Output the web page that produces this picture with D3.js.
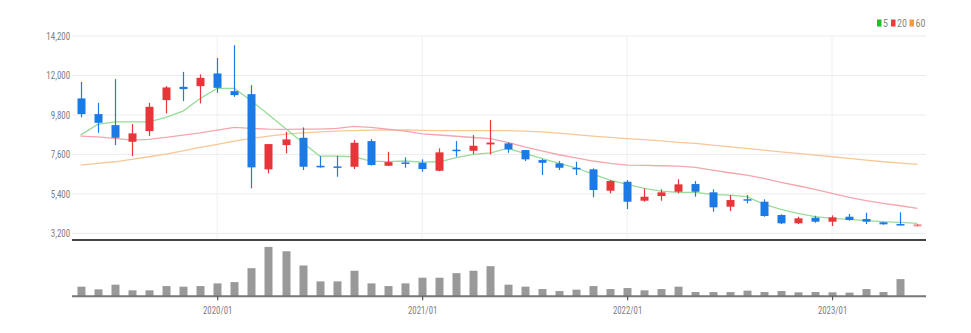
<!DOCTYPE html>
<html>
<head>
<meta charset="utf-8">
<script src="https://cdn.jsdelivr.net/npm/d3@7"></script>
<style>
  html, body { margin: 0; padding: 0; background: #fff; }
  svg { display: block; }
  text { font-family: "Liberation Sans Narrow", "Roboto Condensed", "DejaVu Sans Condensed", "Liberation Sans", sans-serif; }
</style>
</head>
<body>
<svg id="chart" width="971" height="333"></svg>
<script>
const months = ["2019/05","2019/06","2019/07","2019/08","2019/09","2019/10","2019/11","2019/12",
  "2020/01","2020/02","2020/03","2020/04","2020/05","2020/06","2020/07","2020/08","2020/09","2020/10","2020/11","2020/12",
  "2021/01","2021/02","2021/03","2021/04","2021/05","2021/06","2021/07","2021/08","2021/09","2021/10","2021/11","2021/12",
  "2022/01","2022/02","2022/03","2022/04","2022/05","2022/06","2022/07","2022/08","2022/09","2022/10","2022/11","2022/12",
  "2023/01","2023/02","2023/03","2023/04","2023/05","2023/06"];

const open  = [10720, 9845, 9232, 8302, 8898, 10625, 11366, 11405, 12112, 11126, 10959, 6765, 8118, 8525, 6965, 6930, 6910, 8341, 6965, 7150,
  7132, 6687, 7860, 7801, 8157, 8213, 7840, 7283, 7099, 6850, 6765, 5573, 6074, 5016, 5278, 5517, 5946, 5484, 4682, 5100,
  4960, 4219, 3757, 4069, 3846, 4125, 3996, 3813, 3718, 3590];
const high  = [11644, 10474, 11795, 9288, 10474, 11405, 12201, 12056, 12981, 13688, 11460, 8174, 8859, 9104, 7506, 7522, 8400, 8453, 7745, 7433,
  7322, 7935, 8341, 8675, 9511, 8270, 7850, 7340, 7227, 7188, 6820, 6169, 6169, 5706, 5651, 6208, 6113, 5651, 5333, 5333,
  5094, 4260, 4125, 4180, 4200, 4275, 4347, 3840, 4370, 3720];
const low   = [9661, 8803, 8118, 7506, 8620, 9884, 10569, 10441, 11031, 10809, 5706, 6542, 7656, 6726, 6860, 6353, 6782, 6980, 6950, 6854,
  6631, 6660, 7467, 7617, 7600, 7689, 7227, 6447, 6726, 6447, 5205, 5428, 4553, 4960, 5016, 5428, 5239, 4403, 4442, 4871,
  4125, 3718, 3720, 3790, 3607, 3900, 3718, 3680, 3640, 3580];
const close = [9845, 9360, 8525, 8770, 10252, 11332, 11238, 11867, 11310, 10903, 6876, 8174, 8436, 6910, 6876, 6880, 8246, 7004, 7171, 7100,
  6782, 7712, 7820, 8079, 8258, 7879, 7322, 7132, 6854, 6790, 5612, 6113, 4960, 5239, 5484, 5929, 5517, 4648, 5055, 5050,
  4164, 3757, 4036, 3846, 4091, 3941, 3846, 3701, 3645, 3700];
const volume = [97, 70, 117, 60, 60, 103, 97, 103, 130, 143, 283, 497, 453, 310, 150, 150, 257, 130, 103, 130,
  187, 187, 233, 257, 303, 117, 97, 73, 53, 67, 103, 73, 83, 60, 73, 97, 43, 43, 43, 57,
  43, 53, 40, 43, 40, 37, 73, 43, 173, 0];

const ma5  = [8675, 9271, 9416, 9416, 9416, 9661, 10012, 10720, 11277, 11277, 10585, 9826, 9049, 8268, 7506, 7506, 7467, 7227, 7200, 7230,
  7170, 7188, 7420, 7600, 7680, 7935, 7656, 7377, 7099, 6854, 6503, 6169, 5929, 5706, 5556, 5484, 5484, 5372, 5333, 5239,
  4832, 4537, 4314, 4125, 4036, 3980, 3902, 3846, 3813, 3757];
const ma20 = [8620, 8580, 8490, 8397, 8436, 8547, 8675, 8803, 8954, 9104, 9049, 9010, 8993, 9010, 9010, 9049, 9160, 9104, 9000, 8900,
  8740, 8680, 8610, 8540, 8480, 8270, 8024, 7801, 7580, 7400, 7230, 7095, 7004, 6985, 6965, 6948, 6876, 6726, 6576, 6447,
  6263, 6041, 5851, 5651, 5428, 5205, 5016, 4871, 4737, 4592];
const ma60 = [7004, 7099, 7188, 7322, 7467, 7617, 7801, 7990, 8157, 8341, 8490, 8620, 8731, 8803, 8859, 8898, 8920, 8954, 8970, 8960,
  8940, 8930, 8930, 8930, 8930, 8920, 8900, 8850, 8780, 8700, 8620, 8550, 8480, 8420, 8358, 8269, 8213, 8118, 8024, 7935,
  7840, 7745, 7656, 7561, 7467, 7377, 7283, 7188, 7116, 7043];

const priceTicks = [3200, 5400, 7600, 9800, 12000, 14200];
const yearTicks = ["2020/01", "2021/01", "2022/01", "2023/01"];
const legendItems = [
  {label: "5",  color: "#1fbf2a", line: "#98dc98", data: ma5},
  {label: "20", color: "#ef3b3b", line: "#f5a6ad", data: ma20},
  {label: "60", color: "#f39a3a", line: "#f8c797", data: ma60}
];

const svg = d3.select("#chart");
const left = 72, right = 926;
const x = d3.scalePoint().domain(months).range([left, right]).padding(0.5);
const y = d3.scaleLinear().domain([3200, 14200]).range([233.3, 36]);
const vy = d3.scaleLinear().domain([0, 500]).range([296.3, 246.6]);
const bodyW = 8;

// grid
const grid = svg.append("g");
grid.selectAll("line.h").data(priceTicks).join("line")
  .attr("x1", left).attr("x2", right)
  .attr("y1", d => y(d)).attr("y2", d => y(d))
  .attr("stroke", "#ececec").attr("stroke-width", 1);
grid.selectAll("line.v").data(yearTicks).join("line")
  .attr("x1", d => x(d)).attr("x2", d => x(d))
  .attr("y1", y(14200)).attr("y2", 240)
  .attr("stroke", "#f0f0f0").attr("stroke-width", 1);

// y axis labels
const yAxis = svg.append("g").attr("transform", `translate(${left},0)`)
  .call(d3.axisLeft(y).tickValues(priceTicks).tickFormat(d3.format(",")).tickSize(0).tickPadding(2));
yAxis.select(".domain").remove();
yAxis.selectAll("text").attr("fill", "#808080").style("font-size", "10.5px")
  .attr("transform", "scale(0.86,1)");

// MA lines
legendItems.slice().reverse().forEach(it => {
  svg.append("path")
    .datum(it.data)
    .attr("fill", "none")
    .attr("stroke", it.line)
    .attr("stroke-width", 1.3)
    .attr("d", d3.line().x((d, i) => x(months[i])).y(d => y(d)));
});

// candles
const candles = svg.append("g").selectAll("g").data(months).join("g");
const col = i => close[i] >= open[i] ? "#e8353a" : "#1b7be6";
candles.append("line")
  .attr("x1", d => Math.round(x(d)) + 0.5).attr("x2", d => Math.round(x(d)) + 0.5)
  .attr("y1", (d, i) => y(high[i])).attr("y2", (d, i) => y(low[i]))
  .attr("stroke", (d, i) => col(i)).attr("stroke-width", 1.2)
  .attr("opacity", (d, i) => i === months.length - 1 ? 0.55 : 1);
candles.append("rect")
  .attr("x", d => Math.round(x(d)) + 0.5 - bodyW / 2)
  .attr("width", bodyW)
  .attr("y", (d, i) => y(Math.max(open[i], close[i])))
  .attr("height", (d, i) => Math.max(1.5, Math.abs(y(open[i]) - y(close[i]))))
  .attr("fill", (d, i) => col(i))
  .attr("opacity", (d, i) => i === months.length - 1 ? 0.55 : 1);

// main bottom line
svg.append("line").attr("x1", left).attr("x2", right).attr("y1", 240).attr("y2", 240)
  .attr("stroke", "#444").attr("stroke-width", 2);

// volume bars
svg.append("g").selectAll("rect").data(months).join("rect")
  .attr("x", d => Math.round(x(d)) + 0.5 - bodyW / 2)
  .attr("width", bodyW)
  .attr("y", (d, i) => vy(volume[i]))
  .attr("height", (d, i) => vy(0) - vy(volume[i]))
  .attr("fill", "#999");

// volume x axis
const xAxis = svg.append("g").attr("transform", `translate(0,${vy(0)})`)
  .call(d3.axisBottom(x).tickValues(yearTicks).tickSize(4).tickPadding(6));
xAxis.select(".domain").attr("stroke", "#777").attr("stroke-width", 2)
  .attr("d", `M${left},0H${right}`);
xAxis.selectAll(".tick line").attr("stroke", "#555").attr("stroke-width", 1.2);
xAxis.selectAll("text").attr("fill", "#808080").style("font-size", "10.5px")
  .attr("transform", "scale(0.84,1)");

// legend
const lg = svg.append("g");
const legendPos = [877, 891, 909.5];
legendItems.forEach((it, k) => {
  const gx = legendPos[k];
  lg.append("rect").attr("x", gx).attr("y", 19.5).attr("width", 4.5).attr("height", 7).attr("fill", it.color);
  lg.append("text").attr("x", gx + 6).attr("y", 26.5).text(it.label)
    .attr("fill", "#888").style("font-size", "10px");
});
</script>
</body>
</html>
